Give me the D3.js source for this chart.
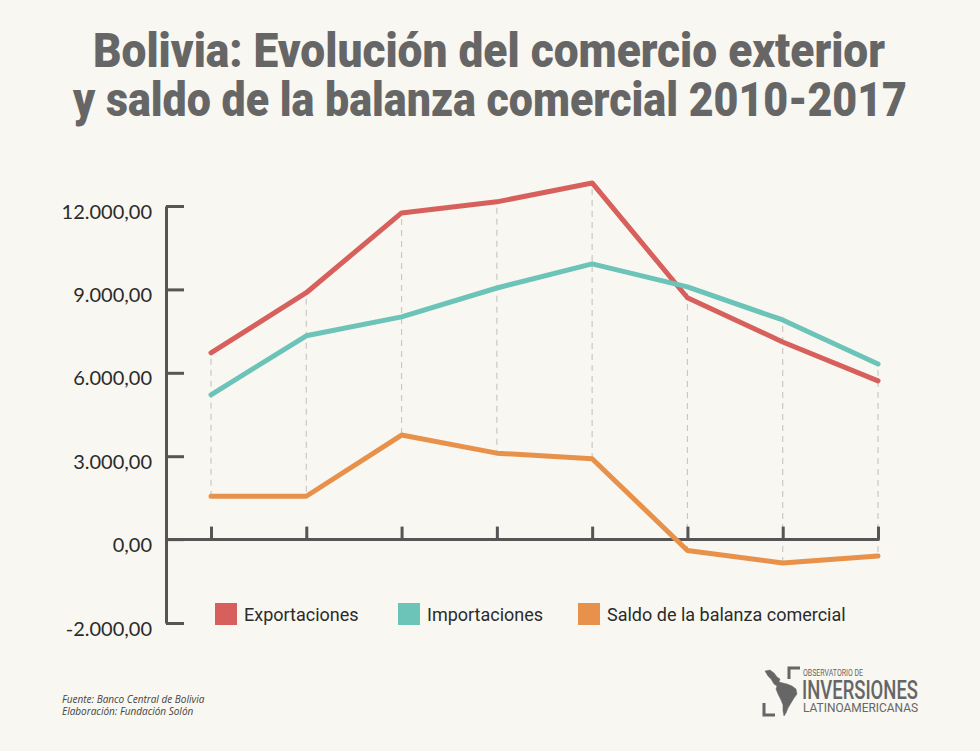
<!DOCTYPE html>
<html>
<head>
<meta charset="utf-8">
<script src="https://cdn.jsdelivr.net/npm/d3@7"></script>
<style>
  body { margin: 0; background: #f8f7f1; }
  #chart svg { display: block; }
</style>
</head>
<body>
<div id="chart"></div>
<script>
/* Bolivia: exportaciones, importaciones y saldo 2010-2017 */

const years = [2010, 2011, 2012, 2013, 2014, 2015, 2016, 2017];
const exportaciones = [6720, 8880, 11750, 12150, 12830, 8700, 7110, 5710];
const importaciones = [5210, 7330, 8010, 9050, 9920, 9090, 7900, 6320];
const saldo = [1560, 1560, 3760, 3110, 2910, -390, -840, -590];

// tick positions are evenly spaced, bottom one is labelled -2.000,00 in the original
const yTicks = [-3000, 0, 3000, 6000, 9000, 12000];
const yTickLabels = ["-2.000,00", "0,00", "3.000,00", "6.000,00", "9.000,00", "12.000,00"];

const seriesNames = ["Exportaciones", "Importaciones", "Saldo de la balanza comercial"];
const colors = ["#d7605d", "#6cc3b7", "#e8914a"];

const width = 980,
      height = 751,
      margin = ({ top: 206, right: 102, bottom: 128, left: 166 });

const series = [exportaciones, importaciones, saldo];

let svg = d3.select("#chart")
    .append("svg")
    .attr("width", width)
    .attr("height", height)
    .attr("viewBox", [0, 0, width, height]);

svg.append("rect")
    .attr("width", width)
    .attr("height", height)
    .attr("fill", "#f8f7f1");

// title, squeezed to look like a condensed face
const title = svg.append("g")
    .attr("fill", "#666666")
    .style("font-family", "Roboto, sans-serif")
    .style("font-weight", "900")
    .style("font-size", "48px");
title.append("text").attr("x", 93).attr("y", 67)
    .attr("textLength", 792).attr("lengthAdjust", "spacingAndGlyphs")
    .text("Bolivia: Evolución del comercio exterior");
title.append("text").attr("x", 73).attr("y", 116)
    .attr("textLength", 834).attr("lengthAdjust", "spacingAndGlyphs")
    .text("y saldo de la balanza comercial 2010-2017");

let x = d3.scaleLinear()
    .domain(d3.extent(years))
    .range([margin.left + 45, width - margin.right]);

let y = d3.scaleLinear()
    .domain([-3000, 12000])
    .range([height - margin.bottom, margin.top]);

// dashed guides from highest to lowest value of each year
svg.append("g")
    .selectAll("line")
    .data(years)
    .join("line")
    .attr("x1", d => x(d))
    .attr("x2", d => x(d))
    .attr("y1", (d, i) => y(d3.max(series, s => s[i])) + 6)
    .attr("y2", (d, i) => y(d3.min(series, s => s[i])))
    .attr("stroke", "#c9c9c6")
    .attr("stroke-width", 1.2)
    .attr("stroke-dasharray", "6,5");

// y axis
let yAxis = svg.append("g")
    .attr("transform", `translate(${margin.left},0)`)
    .call(d3.axisRight(y)
        .tickValues(yTicks)
        .tickFormat((d, i) => yTickLabels[i])
        .tickSize(18)
        .tickSizeOuter(0));
yAxis.select(".domain")
    .attr("stroke", "#555")
    .attr("stroke-width", 3);
yAxis.selectAll(".tick line")
    .attr("stroke", d => d === 0 ? "#222" : "#555")
    .attr("stroke-width", d => d === 0 ? 2 : 3);
yAxis.selectAll(".tick text")
    .attr("x", -14)
    .attr("dy", "0.6em")
    .attr("text-anchor", "end")
    .attr("fill", "#2b2b2b")
    .style("font-family", "Lato, sans-serif")
    .style("font-size", "20px");

// x axis at zero, ticks pointing up
let xAxis = svg.append("g")
    .attr("transform", `translate(0,${y(0)})`)
    .call(d3.axisTop(x)
        .tickValues(years)
        .tickFormat("")
        .tickSize(13)
        .tickSizeOuter(0));
xAxis.select(".domain").remove();
xAxis.selectAll(".tick line")
    .attr("stroke", "#555")
    .attr("stroke-width", 3);
xAxis.append("line")
    .attr("x1", margin.left)
    .attr("x2", x(2017) + 1.5)
    .attr("stroke", "#555")
    .attr("stroke-width", 3);

// lines
let line = d3.line()
    .x((d, i) => x(years[i]))
    .y(d => y(d));

svg.append("g")
    .selectAll("path")
    .data(series)
    .join("path")
    .attr("d", d => line(d))
    .attr("fill", "none")
    .attr("stroke", (d, i) => colors[i])
    .attr("stroke-width", 5)
    .attr("stroke-linejoin", "round")
    .attr("stroke-linecap", "round");

// legend
const legendX = [215, 398, 578];
let legend = svg.append("g")
    .selectAll("g")
    .data(seriesNames)
    .join("g")
    .attr("transform", (d, i) => `translate(${legendX[i]},603)`);

legend.append("rect")
    .attr("width", 22)
    .attr("height", 22)
    .attr("fill", (d, i) => colors[i]);

legend.append("text")
    .attr("x", 29)
    .attr("y", 18)
    .text(d => d)
    .attr("fill", "#2b2b2b")
    .style("font-family", "Roboto, sans-serif")
    .style("font-size", "18px");

// footer
const footer = svg.append("g")
    .attr("fill", "#444")
    .style("font-family", "'Open Sans', sans-serif")
    .style("font-style", "italic")
    .style("font-size", "10px");
footer.append("text").attr("x", 62).attr("y", 703).text("Fuente: Banco Central de Bolivia");
footer.append("text").attr("x", 62).attr("y", 715).text("Elaboración: Fundación Solón");

// logo
let logo = svg.append("g").attr("fill", "#666").attr("stroke", "#666");
logo.append("path")
    .attr("fill", "none")
    .attr("stroke-width", 3)
    .attr("d", "M789,679 V668 H800 M764,703 V715 H775");
logo.append("path")
    .attr("stroke-width", 0.5)
    .attr("d", "M765,671 L770,670 L774,673 L777,677 L780,679 L779,682 L783,683 L787,684 L792,686 L796,689 L797,694 L794,698 L791,703 L788,708 L786,713 L784,716 L783,711 L783,705 L781,700 L778,694 L776,689 L777,686 L774,684 L771,679 L768,676 Z");
const logoFont = "Roboto, sans-serif";
logo.append("text").attr("stroke", "none").attr("x", 803).attr("y", 676)
    .attr("textLength", 60).attr("lengthAdjust", "spacingAndGlyphs")
    .style("font-family", logoFont).style("font-size", "9px").text("OBSERVATORIO DE");
logo.append("text").attr("stroke", "none").attr("x", 802).attr("y", 699)
    .attr("textLength", 116).attr("lengthAdjust", "spacingAndGlyphs")
    .style("font-family", logoFont).style("font-weight", "500").style("font-size", "26px").text("INVERSIONES");
logo.append("text").attr("stroke", "none").attr("x", 803).attr("y", 712)
    .attr("textLength", 115).attr("lengthAdjust", "spacingAndGlyphs")
    .style("font-family", logoFont).style("font-size", "12px").text("LATINOAMERICANAS");
</script>
</body>
</html>
